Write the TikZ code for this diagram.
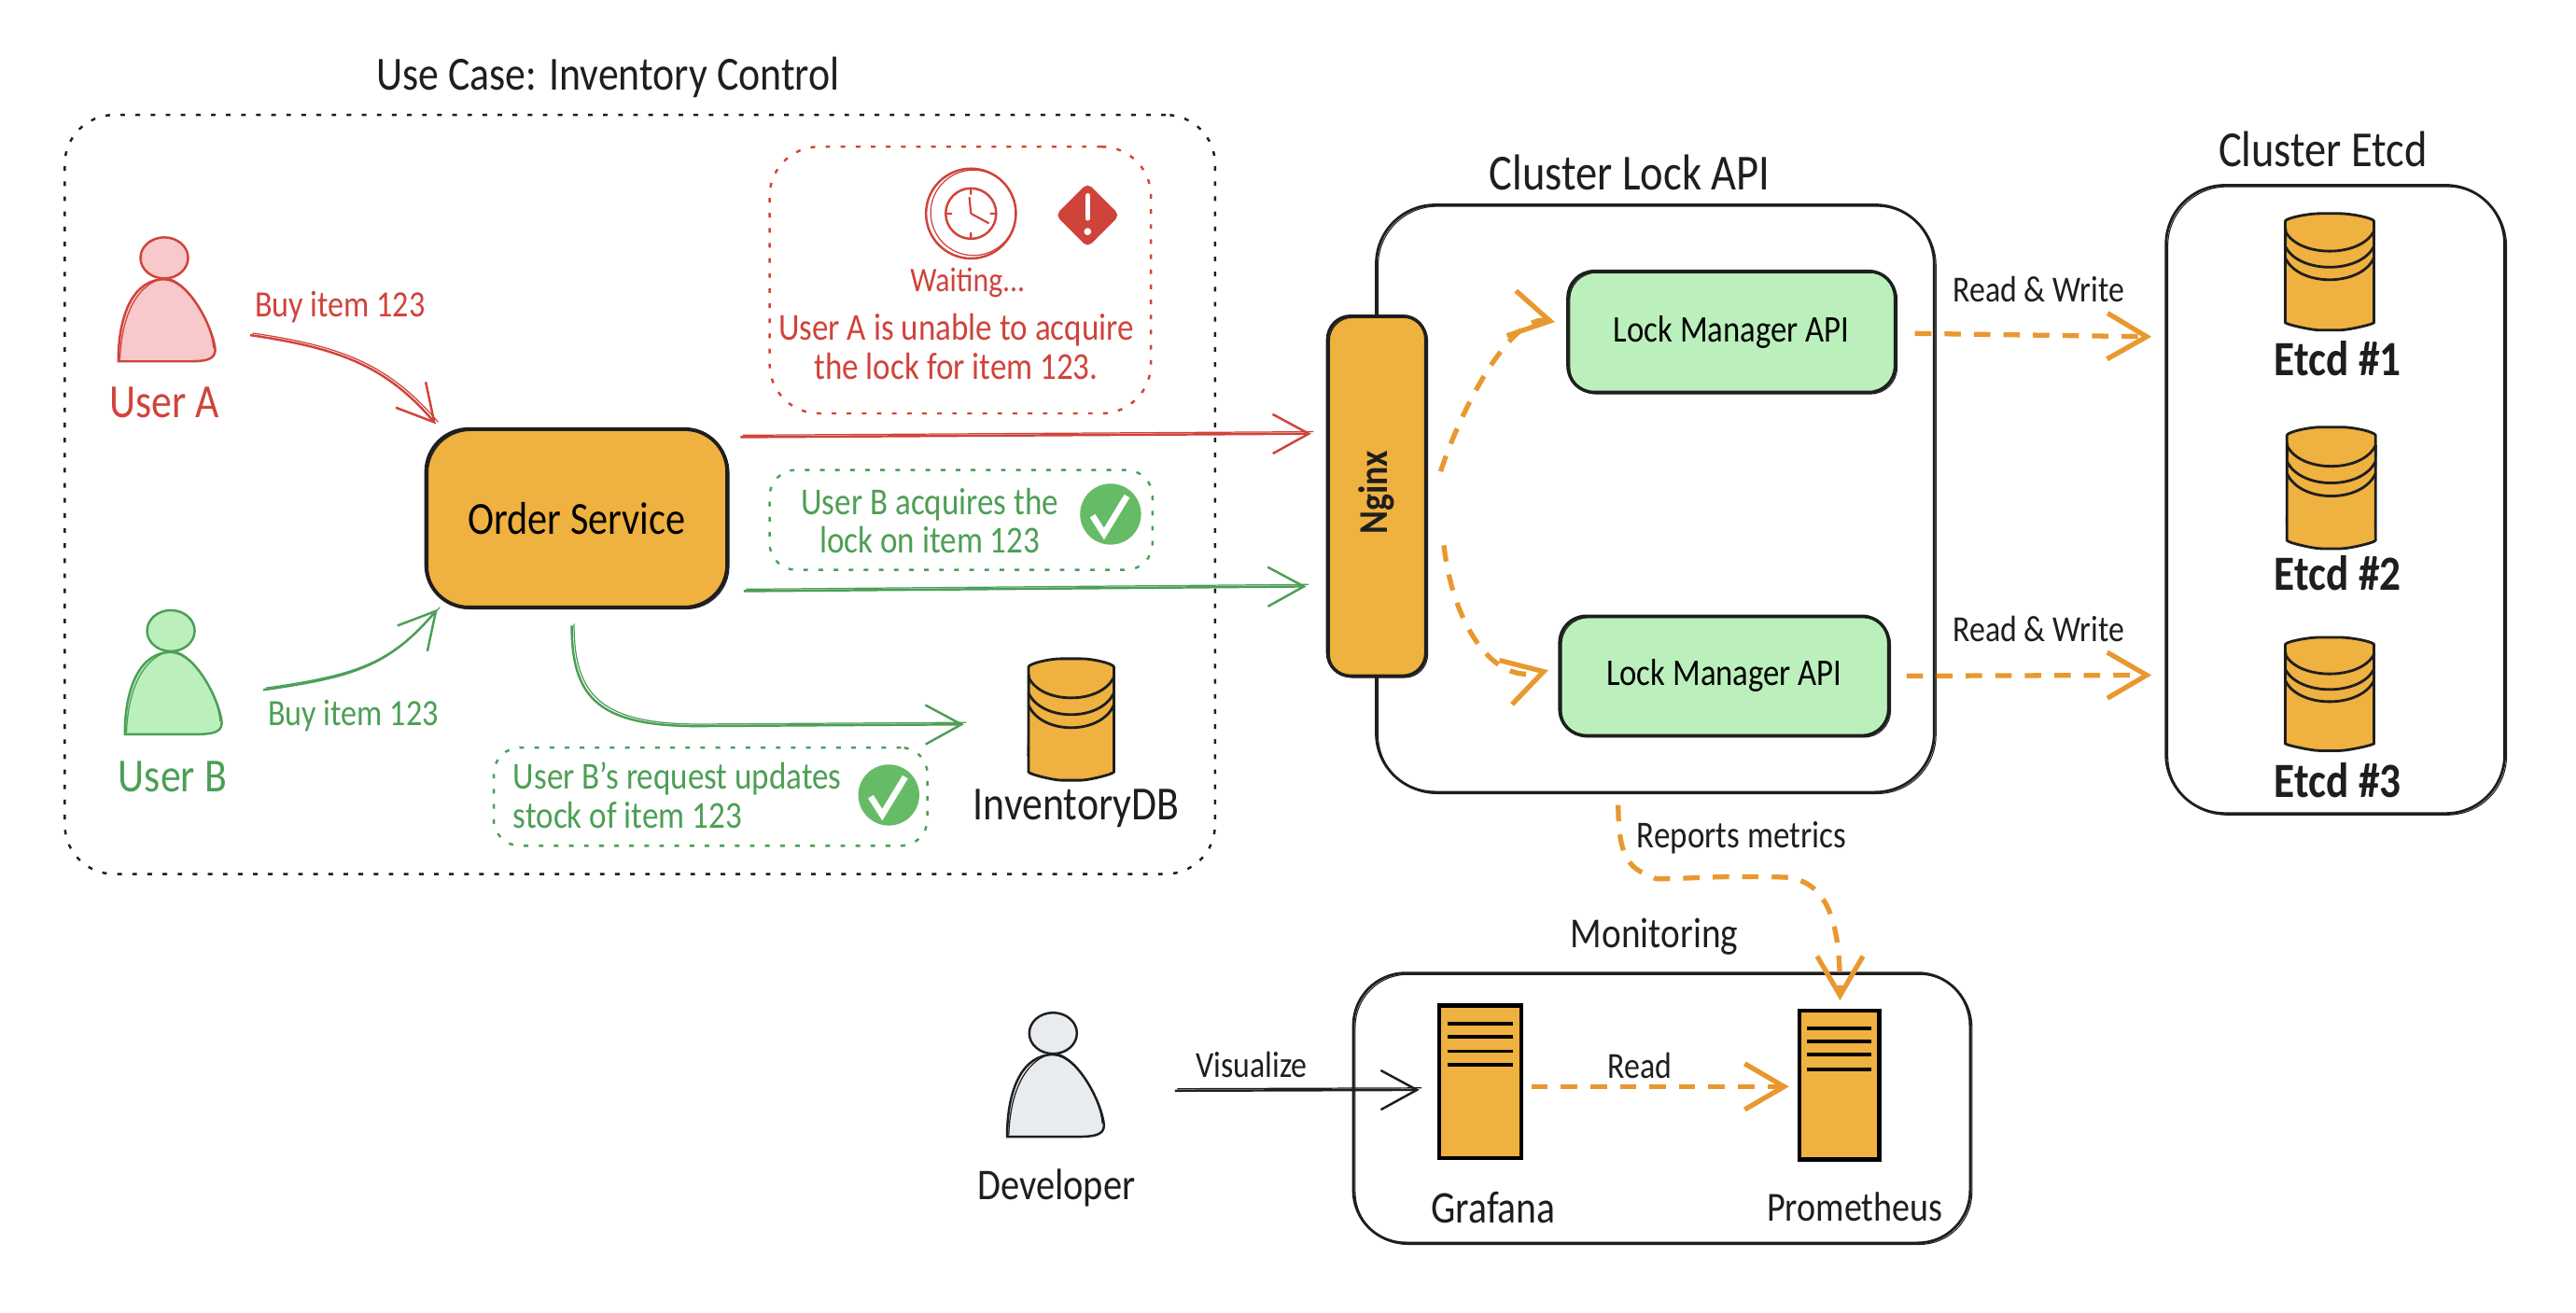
\documentclass[tikz,border=0pt]{standalone}
\usepackage{fontspec}
\setmainfont[FakeStretch=0.86]{Carlito}
\usetikzlibrary{arrows.meta,shapes.geometric}
\definecolor{cred}{HTML}{D0433B}
\definecolor{cgreen}{HTML}{4C9F55}
\definecolor{corange}{HTML}{E9982F}
\definecolor{cfill}{HTML}{EFB13F}
\definecolor{lgreen}{HTML}{BBF0BD}
\definecolor{lred}{HTML}{F8C9CA}
\definecolor{lgray}{HTML}{E9ECEF}
\definecolor{cok}{HTML}{66BB66}
\definecolor{cink}{HTML}{1E1E1E}
\newcommand{\fs}[1]{\fontsize{#1}{#1}\selectfont}
\tikzset{
  wob/.style={postaction={draw,line width=.3pt,transform canvas={shift={(.55pt,-.45pt)}}}},
  solidbox/.style={draw=cink,line width=.8pt,inner sep=0pt,align=center,wob},
  dotbox/.style={line width=.7pt,dash pattern=on 1.4pt off 3.2pt,inner sep=0pt},
  txt/.style={inner sep=0pt,align=center,text=#1},
  txt/.default=cink,
  big/.style={font=\fs{14.5}},
  mid/.style={font=\fs{11.3}},
  small/.style={font=\fs{11.2}},
  note/.style={font=\fs{11.6}},
  hidden/.style={inner sep=0pt,draw=none},
  arr/.style={-{Straight Barb[length=11pt,width=12pt]},line width=.7pt,color=#1,
     postaction={draw,-,line width=.35pt,transform canvas={shift={(.7pt,.6pt)}}}},
  orarr/.style={-{Straight Barb[length=12pt,width=14pt]},line width=1.5pt,color=corange,dash pattern=on 5pt off 4pt},
}
% box by its corners: style, name, x1, y1, x2, y2, radius (in pt), text
\newcommand{\bx}[8]{\node[#1,rounded corners=#7pt,minimum width={(#5-#3)*0.49896pt},minimum height={(#6-#4)*0.49896pt}] (#2) at ({(#3+#5)/2},{(#4+#6)/2}) {#8};}
% person: name, apex x, apex y, fill, stroke
\newcommand{\person}[5]{%
  \begin{scope}[shift={(#2,#3)}]
    \node[hidden,minimum width=29.4pt,minimum height=37.4pt] (#1) at (1.5,12.5) {};
    \draw[#5,fill=#4,line width=.7pt] (-28,50) .. controls (-28,20) and (-18,0) .. (0,0) .. controls (15,0) and (30,30) .. (31,43) .. controls (31,49) and (25,50) .. (15,50) -- cycle;
    \draw[#5,line width=.35pt] (-27,49) .. controls (-26,21) and (-16,2) .. (1,-1) .. controls (16,2) and (29,28) .. (30,42);
    \draw[#5,fill=#4,line width=.7pt] (0,-13) ellipse [x radius=14.5,y radius=12.5];
  \end{scope}}
% database: name, centre x, top y, half width, height
\newcommand{\dbs}[5]{%
  \begin{scope}[shift={(#2,#3)},x=#4*0.017602cm,y=-#5*0.017602cm]
    \node[hidden,minimum width={2*#4*0.49896pt},minimum height={#5*0.49896pt}] (#1) at (0,.5) {};
    \draw[cink,fill=cfill,line width=.8pt,rounded corners=3pt] (-1,.15) .. controls (-1,.04) and (-.5,0) .. (0,0) .. controls (.5,0) and (1,.04) .. (1,.15) -- (1,.85) .. controls (1,.95) and (.4,1) .. (0,1) .. controls (-.4,1) and (-1,.95) .. (-1,.85) -- cycle;
    \draw[cink,line width=.8pt] (-1,.15) .. controls (-.7,.38) and (.7,.38) .. (1,.15);
    \draw[cink,line width=.8pt] (-1,.28) .. controls (-.7,.52) and (.7,.52) .. (1,.28);
    \draw[cink,line width=.8pt] (-1,.38) .. controls (-.7,.63) and (.7,.63) .. (1,.38);
    \draw[cink,line width=.3pt] (-.97,.13) -- (-1.02,.8) (1.02,.15) -- (.98,.82);
  \end{scope}}
% server: name, x1, y1, x2, y2, rule y's
\newcommand{\srv}[6]{%
  \node[draw=black,fill=cfill,line width=1.2pt,inner sep=0pt,minimum width={(#4-#2)*0.49896pt},minimum height={(#5-#3)*0.49896pt}] (#1) at ({(#2+#4)/2},{(#3+#5)/2}) {};
  \foreach \ry in {#6} \draw[black,line width=1.1pt] ({#2+5},\ry) -- ({#4-5},\ry);}
% check badge: name, x, y
\newcommand{\chk}[3]{%
  \node[circle,fill=cok,inner sep=0pt,minimum size=18.6pt] (#1) at (#2,#3) {};
  \begin{scope}[shift={(#2,#3)}]\draw[white,line width=1.9pt] (-11,1) -- (-4,12) -- (10,-11);\end{scope}}
\begin{document}
\begin{tikzpicture}[x=0.017602cm,y=-0.017602cm]
\useasboundingbox[fill=white] (0,0) rectangle (1568,798.8);
% outer groups
\bx{dotbox,draw=cink}{usecase}{38}{69}{741}{533}{15}{}
\bx{solidbox}{lockgroup}{837}{124}{1178}{483}{18}{}
\bx{solidbox}{etcdgroup}{1318}{112}{1525}{496}{18}{}
\bx{solidbox}{mongroup}{823}{592}{1200}{757}{16}{}
\node[txt,big] (t1) at (370,47) {Use Case: Inventory Control};
\node[txt,font=\fs{15.4}] (t2) at (992,105) {Cluster Lock API};
\node[txt,font=\fs{15.4}] (t3) at (1414,91) {Cluster Etcd};
\node[txt,font=\fs{13}] (t4) at (1007,570) {Monitoring};
% users
\person{usera}{100}{170}{lred}{cred}
\person{userb}{104}{397}{lgreen}{cgreen}
\person{dev}{641}{642}{lgray}{cink}
\node[txt=cred,big] (lua) at (100,245) {User A};
\node[txt=cgreen,big] (lub) at (105,473) {User B};
\node[txt,font=\fs{13.4}] (lde) at (643,723) {Developer};
\node[txt=cred,mid] (bua) at (207,187) {Buy item 123};
\node[txt=cgreen,mid] (bub) at (215,436) {Buy item 123};
% order service
\bx{solidbox,fill=cfill,line width=1.1pt,font=\fs{14}}{order}{259}{261}{443}{370}{13}{Order Service}
% notes
\bx{dotbox,draw=cred}{wait}{468}{89}{701}{252}{15}{}
\node[circle,draw=cred,line width=.7pt,minimum size=27.4pt,inner sep=0pt] (clock) at (591,130) {};
\draw[cred,line width=.35pt] (592.5,129.5) circle [radius=26];
\node[circle,draw=cred,line width=.7pt,minimum size=15.4pt,inner sep=0pt] (clockin) at (591,130) {};
\draw[cred,line width=.6pt] (591,130) -- (590,120) (591,130) -- (602,136)
  (591,114.5) -- (591,118.5) (591,141.5) -- (591,145.5) (575.5,130) -- (579.5,130) (602.5,130) -- (606.5,130);
\node[diamond,fill=cred,draw=cred,rounded corners=1.5pt,line width=.6pt,minimum size=19pt,inner sep=0pt,aspect=1] (warn) at (662,131) {};
\draw[white,line width=1.4pt,line cap=round] (662,119) -- (662,133);
\fill[white] (662,141) circle [radius=2.2];
\node[txt=cred,font=\fs{10.5}] (wt) at (589,172) {Waiting...};
\node[txt=cred,note] (wa) at (582,211) {User A is unable to acquire\\[.3pt]the lock for item 123.};
\bx{dotbox,draw=cgreen}{bnote}{468}{286}{702}{347}{8}{}
\node[txt=cgreen,note] (bt) at (566,317) {User B acquires the\\[.3pt]lock on item 123};
\chk{bok}{676}{313}
\bx{dotbox,draw=cgreen}{cnote}{300}{455}{565}{515}{8}{}
\node[txt=cgreen,note,align=left,anchor=west] (ct) at (312,484) {User B's request updates\\[.3pt]stock of item 123};
\chk{cok2}{541}{484}
% databases
\dbs{invdb}{652}{401}{26}{74}
\node[txt,big] (li) at (655,492) {InventoryDB};
\dbs{etcdone}{1418}{130}{27}{71}
\dbs{etcdtwo}{1419}{260}{27}{74}
\dbs{etcdthree}{1418}{388}{27}{69}
\node[txt,font=\bfseries\fs{15}] (le1) at (1423,218) {Etcd \#1};
\node[txt,font=\bfseries\fs{15}] (le2) at (1423,349) {Etcd \#2};
\node[txt,font=\bfseries\fs{15}] (le3) at (1423,475) {Etcd \#3};
% nginx, lock managers
\bx{solidbox,fill=cfill,line width=1pt}{nginx}{808}{192}{868}{412}{7}{}
\node[txt,rotate=90,font=\bfseries\fs{12.5}] (ln) at (838,300) {Nginx};
\bx{solidbox,fill=lgreen,line width=1pt,font=\fs{11.5}}{lmone}{954}{165}{1154}{239}{8}{Lock Manager API}
\bx{solidbox,fill=lgreen,line width=1pt,font=\fs{11.5}}{lmtwo}{949}{375}{1150}{448}{8}{Lock Manager API}
% monitoring
\srv{graf}{876}{612}{926}{705}{623,631,640,648}
\srv{prom}{1095}{615}{1144}{706}{626,634,642,651}
\node[txt,font=\fs{13.8}] (lg) at (909,735) {Grafana};
\node[txt,font=\fs{12.6}] (lp) at (1129,735) {Prometheus};
% connectors
\draw[arr=cred] ([shift={(21,21.5)}]usera.east) .. controls +(55,8) and +(-30,-35) .. ([shift={(7,-2)}]order.north west);
\draw[arr=cgreen] ([shift={(25,10.5)}]userb.east) .. controls +(55,-8) and +(-30,35) .. ([shift={(8,0)}]order.south west);
\draw[arr=cred] ([shift={(7,6)}]order.north east) -- ([shift={(-9,-38)}]nginx.west);
\draw[arr=cgreen] ([shift={(9,-11)}]order.south east) -- ([shift={(-12,55)}]nginx.west);
\draw[arr=cgreen] ([shift={(-3,10)}]order.south) .. controls +(0,45) and +(-65,1) .. (430,442) -- ([shift={(-39,3)}]invdb.west);
\draw[orarr] ([shift={(8,-15)}]nginx.east) .. controls +(15,-45) and +(-25,-5) .. ([shift={(-7,-6)}]lmone.west);
\draw[orarr] ([shift={(10,30)}]nginx.east) .. controls +(5,45) and +(-35,10) .. ([shift={(-6,-3.5)}]lmtwo.west);
\draw[orarr] ([shift={(11,1)}]lmone.east) -- ([shift={(-8,-99)}]etcdgroup.west);
\draw[orarr] ([shift={(10,0)}]lmtwo.east) -- ([shift={(-8,107)}]etcdgroup.west);
\draw[orarr] ([shift={(-22.5,7)}]lockgroup.south) .. controls +(0,35) and +(-15,-6) .. (1008,535) .. controls +(25,0) and +(-50,-1) .. (1086,534) .. controls +(30,2) and +(0,-40) .. ([shift={(0.5,-5)}]prom.north);
\draw[orarr] ([shift={(5,3)}]graf.east) -- ([shift={(-5,1)}]prom.west);
\draw[arr=cink] ([shift={(43,9.5)}]dev.east) -- ([shift={(-11,5)}]graf.west);
% connector labels
\node[txt,small] (rw1) at (1241,176) {Read \& Write};
\node[txt,small] (rw2) at (1241,383) {Read \& Write};
\node[txt,font=\fs{11.6}] (rm) at (1060,510) {Reports metrics};
\node[txt,small] (rd) at (998,649) {Read};
\node[txt,small] (vi) at (762,648) {Visualize};
\end{tikzpicture}
\end{document}
